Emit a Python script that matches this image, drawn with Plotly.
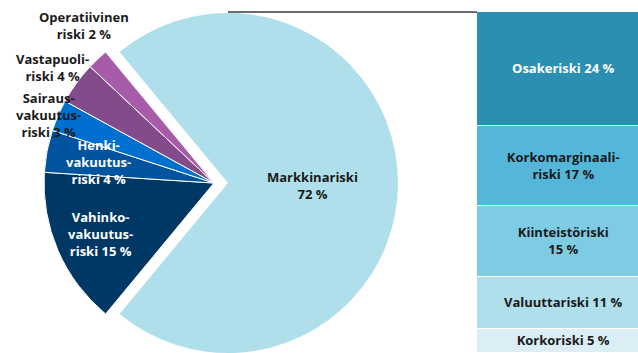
import plotly.graph_objects as go

# --- data -------------------------------------------------------------
pie_labels = ["Markkinariski", "Vahinkovakuutusriski", "Henkivakuutusriski",
              "Sairausvakuutusriski", "Vastapuoliriski", "Operatiivinen riski"]
pie_values = [72, 15, 4, 3, 4, 2]
pie_text_stems = ["Markkinariski<br>", "Vahinko-<br>vakuutus-<br>riski ",
                  "Henki-<br>vakuutus-<br>riski ", "Sairaus-<br>vakuutus-<br>riski ",
                  "Vastapuoli-<br>riski ", "Operatiivinen<br>riski "]

bar_labels = ["Osakeriski", "Korkomarginaaliriski", "Kiinteistöriski",
              "Valuuttariski", "Korkoriski"]
bar_values = [24, 17, 15, 11, 5]
bar_text_stems = ["Osakeriski ", "Korkomarginaali-<br>riski ", "Kiinteistöriski<br>",
                  "Valuuttariski ", "Korkoriski "]

# --- styling ----------------------------------------------------------
pie_colors = ["#b0dfec", "#003865", "#00539f", "#0070d0", "#834b8b", "#a65ca9"]
pie_text_colors = ["#1a1a1a", "white", "white", "#1a1a1a", "#1a1a1a", "#1a1a1a"]
bar_colors = ["#2a8fb1", "#54b7d9", "#7ecbe4", "#b0dfec", "#dbeef5"]
bar_text_colors = ["white", "#1a1a1a", "#1a1a1a", "#1a1a1a", "#1a1a1a"]
FONT = "Open Sans"
FS = 13

W, H = 638, 353
R = 170            # pie radius (px)
CY = 183           # pie centre, px from top
CX_REST = 214      # centre of the small slices
PULL_PX = 14       # how far the market-risk slice is pulled out
CX_MAIN = CX_REST + PULL_PX
BAR_LEFT = 477
BAR_WIDTH = 174
BAR_TOP = 12

# label centres in px (x from left, y from top)
pie_label_pos = [(312, 185), (100, 234), (98, 162), (48, 115), (52, 68), (84, 26)]

total = sum(pie_values)
# start the first slice so that it is centred on 3 o'clock
rotation = 90 - 180 * pie_values[0] / total


def pie_domain(cx):
    return dict(x=[(cx - R) / W, (cx + R) / W],
                y=[1 - (CY + R) / H if CY + R < H else 0, 1 - (CY - R) / H])


clear = "rgba(0,0,0,0)"
fig = go.Figure()

# small risk slices, sharing one centre
fig.add_trace(go.Pie(
    labels=pie_labels, values=pie_values, sort=False, direction="clockwise",
    rotation=rotation, domain=pie_domain(CX_REST), textinfo="none",
    marker=dict(colors=[clear] + pie_colors[1:],
                line=dict(color=[clear] + ["white"] * (len(pie_values) - 1), width=1)),
    showlegend=False, hoverinfo="label+percent",
))
# market risk slice, pulled out to the right
fig.add_trace(go.Pie(
    labels=pie_labels, values=pie_values, sort=False, direction="clockwise",
    rotation=rotation, domain=pie_domain(CX_MAIN), textinfo="none",
    marker=dict(colors=[pie_colors[0]] + [clear] * (len(pie_values) - 1),
                line=dict(width=0)),
    showlegend=False, hoverinfo="label+percent",
))

# breakdown of market risk as a stacked column (bottom segment first)
for lab, val, stem, col, tcol in reversed(list(zip(bar_labels, bar_values, bar_text_stems,
                                                   bar_colors, bar_text_colors))):
    fig.add_trace(go.Bar(
        x=[0], y=[val], name=lab, text=[f"{stem}{val} %"],
        textposition="inside", insidetextanchor="middle", textangle=0,
        constraintext="none",
        textfont=dict(family=FONT, size=FS, color=tcol, weight="bold"),
        marker=dict(color=col, line=dict(color="white", width=1.5)),
        showlegend=False, hoverinfo="name+y",
    ))

annotations = []
for stem, val, (px, py), tcol in zip(pie_text_stems, pie_values, pie_label_pos, pie_text_colors):
    annotations.append(dict(
        text=f"{stem}{val} %", x=px / W, y=1 - py / H, xref="paper", yref="paper",
        xanchor="center", yanchor="middle", align="center", showarrow=False,
        font=dict(family=FONT, size=FS, color=tcol, weight="bold"),
    ))

bar_sum = sum(bar_values)
fig.update_layout(
    width=W, height=H, margin=dict(l=0, r=0, t=0, b=0),
    paper_bgcolor="white", plot_bgcolor="white",
    barmode="stack", bargap=0,
    xaxis=dict(domain=[BAR_LEFT / W, 1], range=[-0.5, -0.5 + (W - BAR_LEFT) / BAR_WIDTH],
               visible=False),
    yaxis=dict(domain=[0, 1 - BAR_TOP / H], range=[0, bar_sum], visible=False),
    annotations=annotations,
    shapes=[dict(type="line", xref="paper", yref="paper",
                 x0=CX_MAIN / W, x1=BAR_LEFT / W, y0=1 - BAR_TOP / H, y1=1 - BAR_TOP / H,
                 line=dict(color="#3a3a3a", width=1.5), layer="below")],
)

fig.write_html("out.html")
